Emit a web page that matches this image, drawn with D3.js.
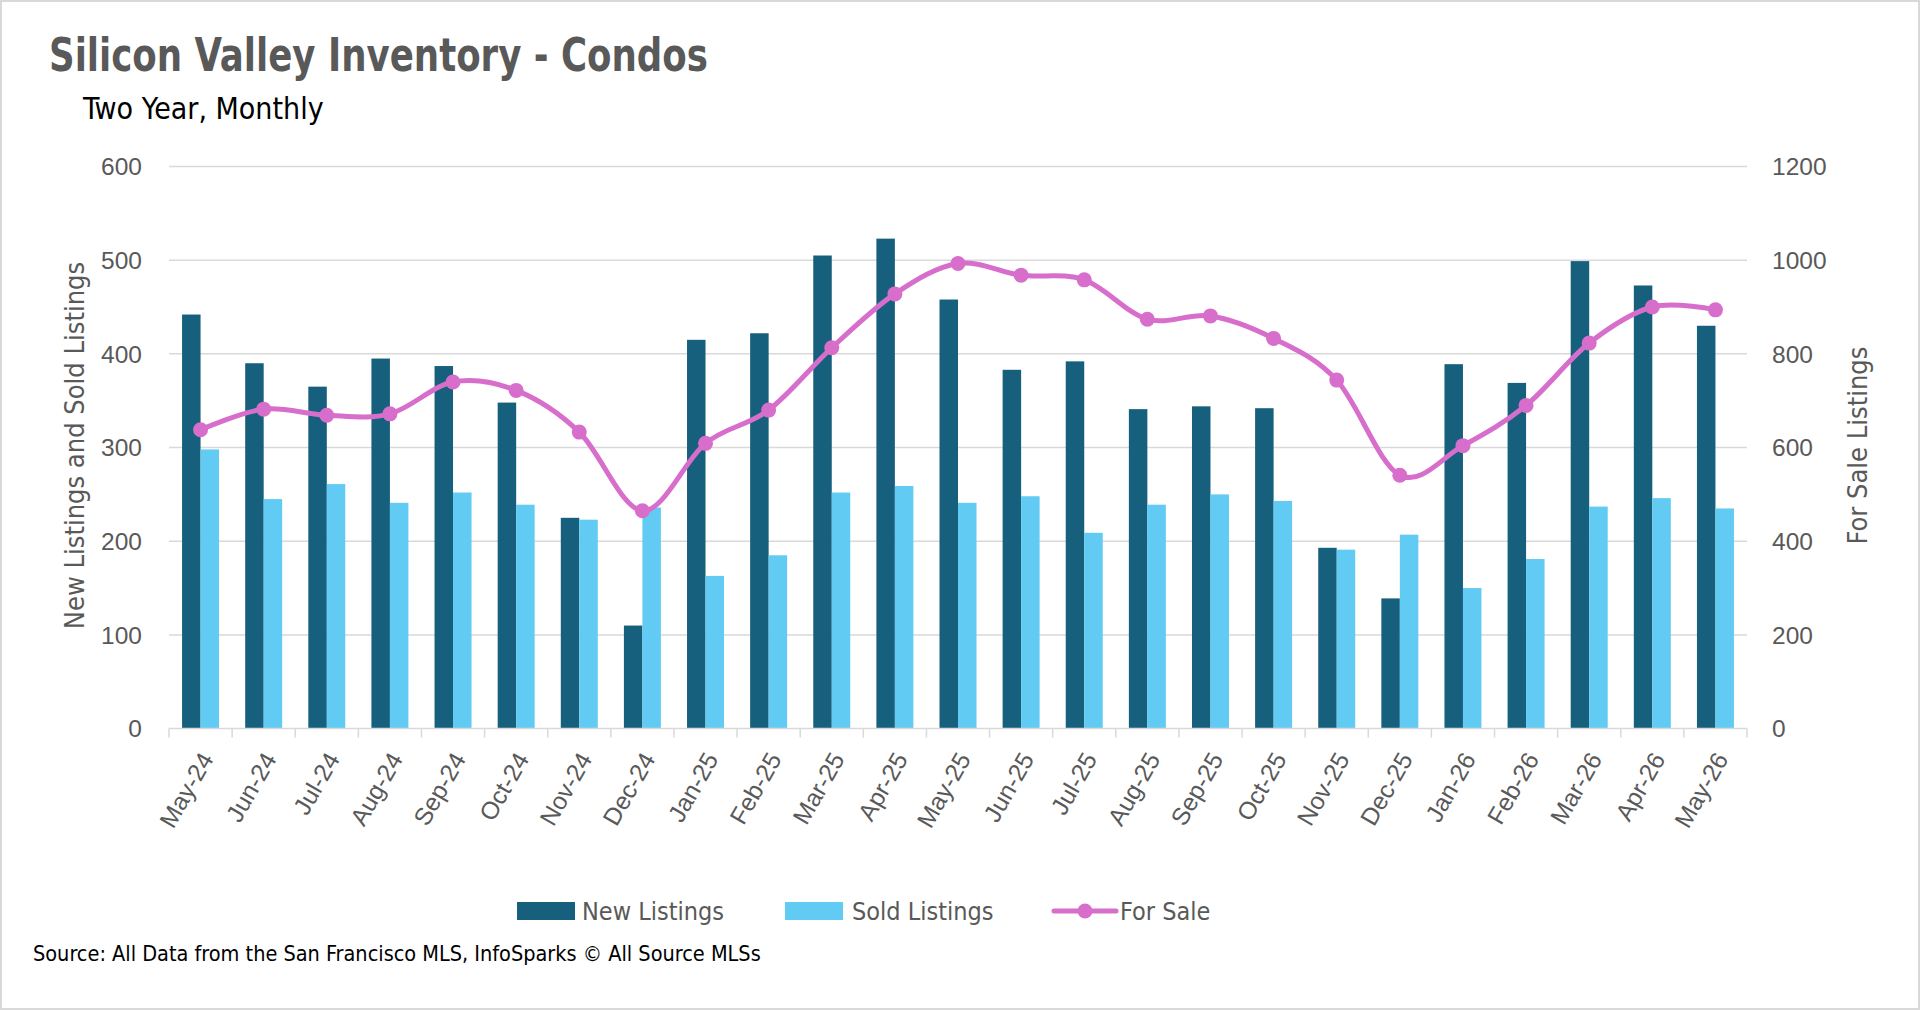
<html lang="en">
<head>
<meta charset="utf-8">
<title>Silicon Valley Inventory - Condos</title>
<style>
  body { margin: 0; background: #fff; }
  .narrow { font-family: "DejaVu Sans Condensed", "Liberation Sans Narrow", "Roboto", sans-serif; }
  .tick-label { font-family: "Liberation Sans", Arial, sans-serif; font-size: 24.5px; fill: #595959; }
  .grid line { stroke: #d9d9d9; stroke-width: 1.5; }
</style>
<script src="https://d3js.org/d3.v7.min.js"></script>
</head>
<body>
<svg id="chart" width="1920" height="1010"></svg>
<script>
// data
var months = ["May-24","Jun-24","Jul-24","Aug-24","Sep-24","Oct-24","Nov-24","Dec-24",
              "Jan-25","Feb-25","Mar-25","Apr-25","May-25","Jun-25","Jul-25","Aug-25",
              "Sep-25","Oct-25","Nov-25","Dec-25","Jan-26","Feb-26","Mar-26","Apr-26","May-26"];
var newListings  = [442,390,365,395,387,348,225,110,415,422,505,523,458,383,392,341,344,342,193,139,389,369,499,473,430];
var soldListings = [298,245,261,241,252,239,223,236,163,185,252,259,241,248,209,239,250,243,191,207,150,181,237,246,235];
var forSale      = [638,682,669,672,740,722,633,465,609,680,813,928,993,968,958,874,881,833,744,541,604,690,823,900,894];
var leftTicks  = [0,100,200,300,400,500,600];
var rightTicks = [0,200,400,600,800,1000,1200];

var colors = { "New Listings": "#17607d", "Sold Listings": "#61cbf3", "For Sale": "#d86ecc" };

// plot area
var plotLeft = 169, plotRight = 1747, plotTop = 166.5, plotBottom = 728.6;

var svg = d3.select("#chart");

// light frame round the picture
svg.append("rect")
  .attr("x", 1).attr("y", 1).attr("width", 1918).attr("height", 1008)
  .attr("fill", "#fff").attr("stroke", "#d9d9d9").attr("stroke-width", 2);

var x0 = d3.scaleBand().domain(months).range([plotLeft, plotRight])
  .paddingInner(0.414).paddingOuter(0.207);
var x1 = d3.scaleBand().domain(["new", "sold"]).range([0, x0.bandwidth()]);
var yL = d3.scaleLinear().domain([0, 600]).range([plotBottom, plotTop]);
var yR = d3.scaleLinear().domain([0, 1200]).range([plotBottom, plotTop]);

// gridlines
svg.append("g").attr("class", "grid")
  .selectAll("line").data(leftTicks.slice(1)).enter().append("line")
  .attr("x1", plotLeft).attr("x2", plotRight)
  .attr("y1", function(d) { return yL(d); })
  .attr("y2", function(d) { return yL(d); });

// left axis labels
svg.append("g").selectAll("text").data(leftTicks).enter().append("text")
  .attr("class", "tick-label")
  .attr("x", 142).attr("y", function(d) { return yL(d); })
  .attr("dy", "0.36em").attr("text-anchor", "end")
  .text(function(d) { return d; });

// right axis labels
svg.append("g").selectAll("text").data(rightTicks).enter().append("text")
  .attr("class", "tick-label")
  .attr("x", 1772).attr("y", function(d) { return yR(d); })
  .attr("dy", "0.36em").attr("text-anchor", "start")
  .text(function(d) { return d; });

// bars
var groups = svg.append("g").selectAll("g").data(months).enter().append("g")
  .attr("transform", function(d) { return "translate(" + x0(d) + ",0)"; });

groups.append("rect")
  .attr("x", x1("new")).attr("width", x1.bandwidth())
  .attr("y", function(d, i) { return yL(newListings[i]); })
  .attr("height", function(d, i) { return plotBottom - yL(newListings[i]); })
  .attr("fill", colors["New Listings"]);

groups.append("rect")
  .attr("x", x1("sold")).attr("width", x1.bandwidth())
  .attr("y", function(d, i) { return yL(soldListings[i]); })
  .attr("height", function(d, i) { return plotBottom - yL(soldListings[i]); })
  .attr("fill", colors["Sold Listings"]);

// x axis line and ticks at category boundaries
var step = x0.step();
var bounds = months.map(function(m) { return x0(m) - step * x0.paddingInner() / 2; });
bounds.push(bounds[bounds.length - 1] + step);

svg.append("line")
  .attr("x1", plotLeft).attr("x2", plotRight).attr("y1", plotBottom).attr("y2", plotBottom)
  .attr("stroke", "#d9d9d9").attr("stroke-width", 1.5);
svg.append("g").selectAll("line").data(bounds).enter().append("line")
  .attr("x1", function(d) { return d; }).attr("x2", function(d) { return d; })
  .attr("y1", plotBottom).attr("y2", plotBottom + 9)
  .attr("stroke", "#d9d9d9").attr("stroke-width", 1.5);

// x labels, rotated
svg.append("g").selectAll("text").data(months).enter().append("text")
  .attr("class", "tick-label")
  .attr("text-anchor", "end")
  .attr("transform", function(d) {
    return "translate(" + (x0(d) + x0.bandwidth() / 2 + 6) + "," + (plotBottom + 26) + ") rotate(-60)";
  })
  .attr("dy", "0.36em")
  .text(function(d) { return d; });

// for sale line on the right axis
var line = d3.line()
  .x(function(d, i) { return x0(months[i]) + x0.bandwidth() / 2; })
  .y(function(d) { return yR(d); })
  .curve(d3.curveCatmullRom.alpha(0));

svg.append("path")
  .attr("d", line(forSale))
  .attr("fill", "none")
  .attr("stroke", colors["For Sale"])
  .attr("stroke-width", 5)
  .attr("stroke-linecap", "round");

svg.append("g").selectAll("circle").data(forSale).enter().append("circle")
  .attr("cx", function(d, i) { return x0(months[i]) + x0.bandwidth() / 2; })
  .attr("cy", function(d) { return yR(d); })
  .attr("r", 7.5)
  .attr("fill", colors["For Sale"]);

// titles (condensed a bit more to match the narrow original face)
svg.append("text").attr("class", "narrow")
  .attr("transform", "translate(49,71) scale(0.86,1)")
  .style("font-size", "46px").style("font-weight", "bold").style("fill", "#595959")
  .text("Silicon Valley Inventory - Condos");

svg.append("text").attr("class", "narrow")
  .attr("x", 83).attr("y", 119)
  .style("font-size", "30px").style("fill", "#000")
  .text("Two Year, Monthly");

// axis titles
svg.append("text").attr("class", "narrow")
  .attr("transform", "translate(84," + ((plotTop + plotBottom) / 2 - 2) + ") rotate(-90)")
  .attr("text-anchor", "middle")
  .style("font-size", "27px").style("fill", "#595959")
  .text("New Listings and Sold Listings");

svg.append("text").attr("class", "narrow")
  .attr("transform", "translate(1867," + ((plotTop + plotBottom) / 2 - 2) + ") rotate(-90)")
  .attr("text-anchor", "middle")
  .style("font-size", "27px").style("fill", "#595959")
  .text("For Sale Listings");

// legend
var legend = svg.append("g");
var legendY = 911;

legend.append("rect").attr("x", 517).attr("y", legendY - 9).attr("width", 58).attr("height", 18)
  .attr("fill", colors["New Listings"]);
legend.append("text").attr("class", "narrow").attr("x", 582).attr("y", legendY)
  .attr("dy", "0.35em").style("font-size", "25px").style("fill", "#595959").text("New Listings");

legend.append("rect").attr("x", 785).attr("y", legendY - 9).attr("width", 58).attr("height", 18)
  .attr("fill", colors["Sold Listings"]);
legend.append("text").attr("class", "narrow").attr("x", 852).attr("y", legendY)
  .attr("dy", "0.35em").style("font-size", "25px").style("fill", "#595959").text("Sold Listings");

legend.append("line").attr("x1", 1054).attr("x2", 1116).attr("y1", legendY).attr("y2", legendY)
  .attr("stroke", colors["For Sale"]).attr("stroke-width", 5).attr("stroke-linecap", "round");
legend.append("circle").attr("cx", 1085).attr("cy", legendY).attr("r", 7.5)
  .attr("fill", colors["For Sale"]);
legend.append("text").attr("class", "narrow").attr("x", 1120).attr("y", legendY)
  .attr("dy", "0.35em").style("font-size", "25px").style("fill", "#595959").text("For Sale");

// source note
svg.append("text").attr("class", "narrow")
  .attr("x", 33).attr("y", 961)
  .style("font-size", "21.5px").style("fill", "#000")
  .text("Source: All Data from the San Francisco MLS, InfoSparks \u00a9 All Source MLSs");
</script>
</body>
</html>
